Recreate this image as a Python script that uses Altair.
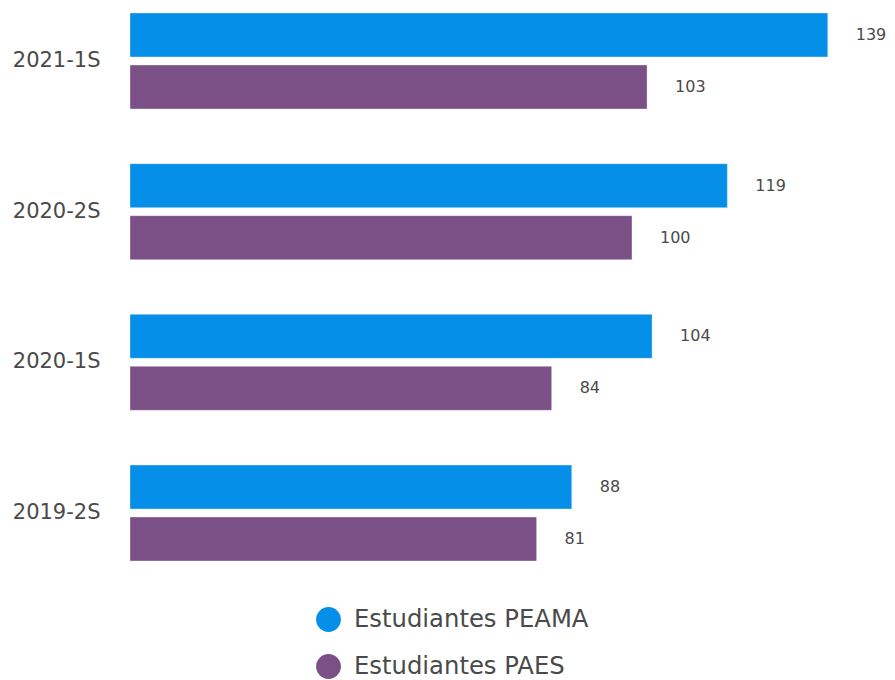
import altair as alt
import pandas as pd

periods = ["2021-1S", "2020-2S", "2020-1S", "2019-2S"]
peama = [139, 119, 104, 88]
paes = [103, 100, 84, 81]
series = ["Estudiantes PEAMA", "Estudiantes PAES"]
colors = ["#068FE9", "#7A5087"]

rows = []
for p, a, b in zip(periods, peama, paes):
    rows.append({"period": p, "serie": series[0], "value": a})
    rows.append({"period": p, "serie": series[1], "value": b})
df = pd.DataFrame(rows)

FONT = "DejaVu Sans"

y = alt.Y("period:N", sort=periods, title=None,
          scale=alt.Scale(paddingInner=0.363, paddingOuter=0.033),
          axis=alt.Axis(ticks=False, domain=False, labelFontSize=21, labelColor="#4a4a4a",
                        labelPadding=30, labelFont=FONT, grid=False))
yoff = alt.YOffset("serie:N", sort=series, scale=alt.Scale(paddingInner=0.154, paddingOuter=0))
x = alt.X("value:Q", scale=alt.Scale(domain=[0, 150.8], nice=False), axis=None)

bars = alt.Chart(df).mark_bar(strokeWidth=1, strokeOpacity=0.35, stroke="white").encode(
    x=x, y=y, yOffset=yoff,
    color=alt.Color("serie:N", sort=series,
                    scale=alt.Scale(domain=series, range=colors),
                    legend=alt.Legend(title=None, orient="none", legendX=186, legendY=599,
                                      direction="vertical", symbolType="circle", symbolSize=615,
                                      symbolStrokeWidth=0, labelFontSize=24.3, labelColor="#4a4a4a",
                                      labelFont=FONT, labelOffset=13, rowPadding=22, padding=0,
                                      labelLimit=0)),
)

labels = alt.Chart(df).mark_text(align="left", baseline="middle", dx=28, fontSize=16,
                                 color="#4a4a4a", font=FONT).encode(
    x=x, y=y, yOffset=yoff, text="value:Q"
)

chart = (bars + labels).properties(
    width=757, height=558,
    autosize=alt.AutoSizeParams(type="none"),
    padding={"left": 122, "top": 0, "right": 0, "bottom": 114},
).configure_view(stroke=None)

chart.save("out.html", embed_options={"renderer": "svg", "actions": False})
